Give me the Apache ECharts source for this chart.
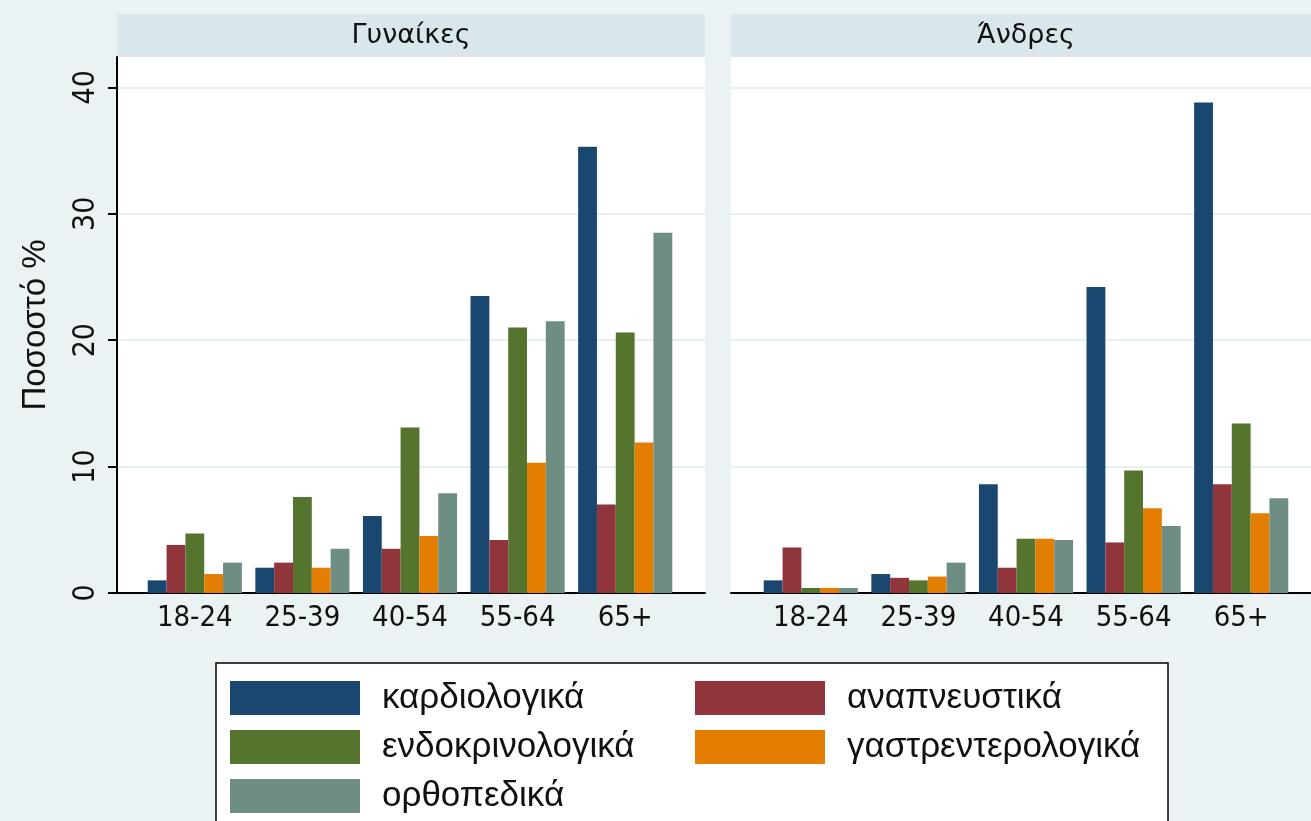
<!DOCTYPE html>
<html>
<head>
<meta charset="utf-8">
<script src="https://cdn.jsdelivr.net/npm/echarts@6/dist/echarts.min.js"></script>
<style>
html,body{margin:0;padding:0;background:#EAF2F3;}
#chart{width:1311px;height:821px;}
</style>
</head>
<body>
<div id="chart"></div>
<script>
// ---- data ----
const categories = ['18-24', '25-39', '40-54', '55-64', '65+'];
const seriesNames = ['καρδιολογικά', 'αναπνευστικά', 'ενδοκρινολογικά', 'γαστρεντερολογικά', 'ορθοπεδικά'];
const panelTitles = ['Γυναίκες', 'Άνδρες'];
const yTicks = [0, 10, 20, 30, 40];
const yTitle = 'Ποσοστό %';

// Γυναίκες
const womenCardio = [1.0, 2.0, 6.1, 23.5, 35.3];
const womenResp   = [3.8, 2.4, 3.5, 4.2, 7.0];
const womenEndo   = [4.7, 7.6, 13.1, 21.0, 20.6];
const womenGastro = [1.5, 2.0, 4.5, 10.3, 11.9];
const womenOrtho  = [2.4, 3.5, 7.9, 21.5, 28.5];
// Άνδρες
const menCardio = [1.0, 1.5, 8.6, 24.2, 38.8];
const menResp   = [3.6, 1.2, 2.0, 4.0, 8.6];
const menEndo   = [0.4, 1.0, 4.3, 9.7, 13.4];
const menGastro = [0.4, 1.3, 4.3, 6.7, 6.3];
const menOrtho  = [0.4, 2.4, 4.2, 5.3, 7.5];

const colors = ['#1a476f', '#90353b', '#55752f', '#e37e00', '#6e8e84'];
const womenData = [womenCardio, womenResp, womenEndo, womenGastro, womenOrtho];
const menData = [menCardio, menResp, menEndo, menGastro, menOrtho];

const YMAX = 42.4;
const narrow = '"Liberation Sans Narrow", "DejaVu Sans Condensed", "Liberation Sans", sans-serif';
const regular = '"Liberation Sans", Arial, sans-serif';

const chart = echarts.init(document.getElementById('chart'), null, {renderer: 'canvas'});

const plotTop = 57, plotH = 536;
const panels = [
  {outerLeft: 117, outerW: 588, innerLeft: 141, innerW: 538},
  {outerLeft: 731, outerW: 590, innerLeft: 757, innerW: 538}
];

const grids = [], xAxes = [], yAxes = [], series = [];
panels.forEach((p, i) => {
  // outer grid: background, y-axis, gridlines, baseline
  grids.push({left: p.outerLeft, top: plotTop, width: p.outerW, height: plotH,
    show: true, backgroundColor: '#ffffff', borderWidth: 0});
  // inner grid: bars and category labels
  grids.push({left: p.innerLeft, top: plotTop, width: p.innerW, height: plotH, show: false});
  const og = i * 2, ig = i * 2 + 1;
  xAxes.push({gridIndex: og, type: 'value', min: 0, max: 1, show: true,
    axisLine: {show: true, lineStyle: {color: '#000', width: 2}},
    axisTick: {show: false}, axisLabel: {show: false}, splitLine: {show: false}});
  xAxes.push({gridIndex: ig, type: 'category', data: categories,
    axisLine: {show: false}, axisTick: {show: false},
    axisLabel: {show: true, color: '#111', fontFamily: narrow, fontSize: 29, margin: 11}});
  yAxes.push({gridIndex: og, type: 'value', min: 0, max: YMAX, interval: 10,
    name: i === 0 ? yTitle : '', nameLocation: 'middle', nameGap: 65,
    nameTextStyle: {color: '#111', fontFamily: regular, fontSize: 33},
    axisLine: {show: i === 0, onZero: false, lineStyle: {color: '#000', width: 2}},
    axisTick: {show: i === 0, length: 9, lineStyle: {color: '#000', width: 2}, customValues: yTicks},
    axisLabel: {show: i === 0, rotate: 90, color: '#111', fontFamily: narrow, fontSize: 30, margin: 16,
      customValues: yTicks},
    splitLine: {show: true, lineStyle: {color: '#E6EFF1', width: 2}}});
  yAxes.push({gridIndex: ig, type: 'value', min: 0, max: YMAX, show: false,
    splitLine: {show: false}});
  const data = i === 0 ? womenData : menData;
  data.forEach((vals, k) => {
    series.push({type: 'bar', name: seriesNames[k], xAxisIndex: ig, yAxisIndex: ig,
      data: vals, barGap: '0%', barCategoryGap: '12.5%',
      itemStyle: {color: colors[k]}, emphasis: {disabled: true}});
  });
});

const option = {
  backgroundColor: '#EAF2F3',
  animation: false,
  grid: grids,
  xAxis: xAxes,
  yAxis: yAxes,
  series: series,
  legend: {
    data: seriesNames,
    left: 216, top: 663, width: 930,
    orient: 'horizontal',
    icon: 'rect', itemWidth: 130, itemHeight: 34, itemGap: 13,
    padding: [17, 21, 20, 14],
    backgroundColor: '#ffffff', borderColor: '#000', borderWidth: 1.5,
    textStyle: {color: '#111', fontFamily: regular, fontSize: 35, width: 300, lineHeight: 36,
      padding: [0, 0, 0, 17]},
    selectedMode: false
  },
  graphic: [
    {type: 'rect', z: -1, shape: {x: 117, y: 14, width: 588, height: 43}, style: {fill: '#D9E6EB'}},
    {type: 'rect', z: -1, shape: {x: 731, y: 14, width: 600, height: 43}, style: {fill: '#D9E6EB'}},
    {type: 'text', x: 411, y: 36, style: {text: panelTitles[0], fill: '#111', font: '27px "DejaVu Sans", sans-serif',
      textAlign: 'center', textVerticalAlign: 'middle'}},
    {type: 'text', x: 1026, y: 36, style: {text: panelTitles[1], fill: '#111', font: '27px "DejaVu Sans", sans-serif',
      textAlign: 'center', textVerticalAlign: 'middle'}}
  ]
};
chart.setOption(option);
</script>
</body>
</html>
